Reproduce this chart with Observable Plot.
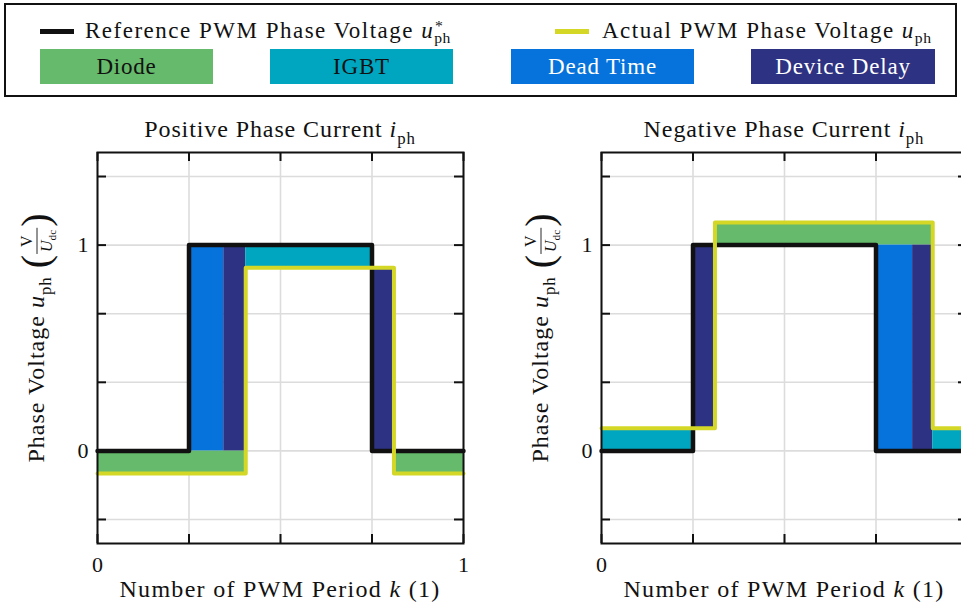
<!DOCTYPE html>
<html>
<head>
<meta charset="utf-8">
<script src="https://cdn.jsdelivr.net/npm/d3@7"></script>
<script src="https://cdn.jsdelivr.net/npm/@observablehq/plot@0.6"></script>
<style>
html, body { margin: 0; padding: 0; background: #fff; overflow: hidden; }
#fig { position: relative; width: 961px; height: 610px; overflow: hidden; font-family: "Liberation Serif", serif; color: #111; }
#legendBox { position: absolute; left: 4px; top: 3px; width: 949px; height: 90px; border: 2px solid #111; }
.sw { position: absolute; }
.lt { position: absolute; font-size: 23px; letter-spacing: 1.5px; line-height: 28px; white-space: nowrap; }
.box { position: absolute; top: 49px; height: 35px; line-height: 35px; text-align: center; font-size: 23px; letter-spacing: 0.8px; }
.ss { position: relative; font-size: 0.68em; display: inline-block; letter-spacing: 0.5px; }
.ss .sb { position: relative; top: 0.35em; }
.ss .sp { position: absolute; left: 0.05em; top: -0.45em; }
.pan { position: absolute; top: 105px; width: 493px; height: 505px; }
.pan svg { max-width: none !important; }
</style>
</head>
<body>
<div id="fig">
  <div id="legendBox"></div>
  <div class="sw" style="left:40px;top:29px;width:34px;height:5px;background:#111"></div>
  <div class="lt" style="left:85px;top:17px">Reference PWM Phase Voltage <i>u</i><span class="ss"><span class="sp">*</span><span class="sb">ph</span></span></div>
  <div class="sw" style="left:555px;top:29px;width:34px;height:5px;background:#D4D726"></div>
  <div class="lt" style="left:602px;top:17px">Actual PWM Phase Voltage <i>u</i><span class="ss"><span class="sb">ph</span></span></div>
  <div id="legendBoxes"></div>
  <div class="pan" id="p1" style="left:0px"></div>
  <div class="pan" id="p2" style="left:504px"></div>
</div>
<script>
// ---------- data ----------
const kinds = ["Diode", "IGBT", "Dead Time", "Device Delay"];
const kindColors = ["#66BA6B", "#00A6BF", "#0672DB", "#2D3282"];
const kindText = ["#111", "#111", "#fff", "#fff"];

const xTicks = [0, 0.25, 0.5, 0.75, 1];
const xLabels = [0, 1];
const yTicks = [-0.3333, 0, 0.3333, 0.6667, 1, 1.3333];
const yLabels = [0, 1];

// Positive phase current
const posRef = [{k: 0, u: 0}, {k: 0.25, u: 1}, {k: 0.75, u: 0}, {k: 1, u: 0}];
const posAct = [{k: 0, u: -0.11}, {k: 0.405, u: 0.89}, {k: 0.81, u: -0.11}, {k: 1, u: -0.11}];
const posRegions = [
  {kind: "Diode", x1: 0, x2: 0.405, y1: -0.11, y2: 0},
  {kind: "Diode", x1: 0.81, x2: 1, y1: -0.11, y2: 0},
  {kind: "Dead Time", x1: 0.25, x2: 0.345, y1: 0, y2: 1},
  {kind: "Device Delay", x1: 0.345, x2: 0.405, y1: 0, y2: 1},
  {kind: "IGBT", x1: 0.405, x2: 0.75, y1: 0.89, y2: 1},
  {kind: "Device Delay", x1: 0.75, x2: 0.81, y1: 0, y2: 0.89}
];

// Negative phase current
const negRef = [{k: 0, u: 0}, {k: 0.25, u: 1}, {k: 0.75, u: 0}, {k: 1, u: 0}];
const negAct = [{k: 0, u: 0.11}, {k: 0.31, u: 1.11}, {k: 0.905, u: 0.11}, {k: 1, u: 0.11}];
const negRegions = [
  {kind: "IGBT", x1: 0, x2: 0.25, y1: 0, y2: 0.11},
  {kind: "Device Delay", x1: 0.25, x2: 0.31, y1: 0.11, y2: 1},
  {kind: "Diode", x1: 0.31, x2: 0.905, y1: 1, y2: 1.11},
  {kind: "Dead Time", x1: 0.75, x2: 0.85, y1: 0, y2: 1},
  {kind: "Device Delay", x1: 0.85, x2: 0.905, y1: 0, y2: 1},
  {kind: "IGBT", x1: 0.905, x2: 1, y1: 0, y2: 0.11}
];

// ---------- legend boxes ----------
const boxPos = [[40, 173], [270, 183], [511, 183], [751, 184]];
const lb = d3.select("#legendBoxes");
kinds.forEach((k, i) => {
  lb.append("div").attr("class", "box")
    .style("left", boxPos[i][0] + "px").style("width", boxPos[i][1] + "px")
    .style("background", kindColors[i]).style("color", kindText[i])
    .text(k);
});

// ---------- panels ----------
const FONT = "Liberation Serif";
const W = 493, H = 505, mL = 97, mR = 30, mT = 47, mB = 67;
const fw = W - mL - mR, fh = H - mT - mB;

function rich(textSel, parts, size) {
  let shift = 0;
  for (const p of parts) {
    const ts = textSel.append("tspan").text(p.t);
    if (p.i) ts.attr("font-style", "italic");
    const target = p.sub ? size * 0.28 : p.sup ? -size * 0.4 : 0;
    if (target !== shift) { ts.attr("dy", target - shift); shift = target; }
    if (p.sub || p.sup) ts.attr("font-size", size * 0.7);
  }
  return textSel;
}

function panel(container, regions, ref, act, title) {
  const chart = Plot.plot({
    width: W, height: H,
    marginLeft: mL, marginRight: mR, marginTop: mT, marginBottom: mB,
    style: {fontFamily: FONT, fontSize: "22px", color: "#111", background: "transparent", overflow: "visible", maxWidth: "none"},
    x: {domain: [0, 1]},
    y: {domain: [-0.45, 1.45]},
    color: {domain: kinds, range: kindColors},
    marks: [
      Plot.gridX(xTicks, {stroke: "#dcdcdc", strokeOpacity: 1, strokeWidth: 1.6}),
      Plot.gridY(yTicks, {stroke: "#dcdcdc", strokeOpacity: 1, strokeWidth: 1.6}),
      Plot.rect(regions, {x1: "x1", x2: "x2", y1: "y1", y2: "y2", fill: "kind"}),
      Plot.line(ref, {x: "k", y: "u", curve: "step-after", stroke: "#111", strokeWidth: 4.5, strokeLinejoin: "round"}),
      Plot.line(act, {x: "k", y: "u", curve: "step-after", stroke: "#D4D726", strokeWidth: 4, strokeLinejoin: "round"}),
      Plot.frame({stroke: "#111", strokeWidth: 2}),
      Plot.tickX(xTicks, {x: d => d, insetTop: fh - 9, stroke: "#111", strokeWidth: 2}),
      Plot.tickX(xTicks, {x: d => d, insetBottom: fh - 9, stroke: "#111", strokeWidth: 2}),
      Plot.tickY(yTicks, {y: d => d, insetRight: fw - 9, stroke: "#111", strokeWidth: 2}),
      Plot.tickY(yTicks, {y: d => d, insetLeft: fw - 9, stroke: "#111", strokeWidth: 2}),
      Plot.axisX(xLabels, {tickSize: 0, tickPadding: 13, fontSize: 22, label: null, tickFormat: d => String(d)}),
      Plot.axisY(yLabels, {tickSize: 0, tickPadding: 9, fontSize: 22, label: null, tickFormat: d => String(d)})
    ]
  });
  document.querySelector(container).appendChild(chart);
  const svg = d3.select(chart);
  const cx = mL + fw / 2;
  // title
  rich(svg.append("text").attr("x", cx).attr("y", 32).attr("text-anchor", "middle")
    .attr("font-family", FONT).attr("font-size", 24).attr("letter-spacing", 0.9).attr("fill", "#111"), title, 24);
  // x label
  rich(svg.append("text").attr("x", cx).attr("y", 492).attr("text-anchor", "middle")
    .attr("font-family", FONT).attr("font-size", 24).attr("letter-spacing", 1.3).attr("fill", "#111"),
    [{t: "Number of PWM Period "}, {t: "k", i: true}, {t: " (1)"}], 24);
  // y label (rotated, with fraction)
  const g = svg.append("g").attr("font-family", FONT).attr("fill", "#111").attr("text-anchor", "start");
  const main = rich(g.append("text").attr("x", 0).attr("y", 0).attr("font-size", 24).attr("letter-spacing", 1.0),
    [{t: "Phase Voltage "}, {t: "u", i: true}, {t: "ph", sub: true}], 24);
  const mb = main.node().getBBox();
  let pos = mb.x + mb.width + 8;
  const lp = g.append("text").attr("x", pos).attr("y", 5).attr("font-size", 40).text("(");
  const lpb = lp.node().getBBox();
  pos = lpb.x + lpb.width + 1;
  const num = g.append("text").attr("y", -12).attr("font-size", 16).text("V");
  const den = rich(g.append("text").attr("y", 8).attr("font-size", 16), [{t: "U", i: true}, {t: "dc", sub: true}], 16);
  const nw = num.node().getBBox().width, dw = den.node().getBBox().width;
  const fwid = Math.max(nw, dw) + 4;
  num.attr("x", pos + (fwid - nw) / 2);
  den.attr("x", pos + (fwid - dw) / 2);
  g.append("line").attr("x1", pos).attr("x2", pos + fwid).attr("y1", -7).attr("y2", -7).attr("stroke", "#111").attr("stroke-width", 0.9);
  pos += fwid + 1;
  const rp = g.append("text").attr("x", pos).attr("y", 5).attr("font-size", 40).text(")");
  const rpb = rp.node().getBBox();
  const start = mb.x, end = rpb.x + rpb.width;
  g.attr("transform", `translate(44, ${233 + (end + start) / 2}) rotate(-90)`);
}

panel("#p1", posRegions, posRef, posAct, [{t: "Positive Phase Current "}, {t: "i", i: true}, {t: "ph", sub: true}]);
panel("#p2", negRegions, negRef, negAct, [{t: "Negative Phase Current "}, {t: "i", i: true}, {t: "ph", sub: true}]);
</script>
</body>
</html>
